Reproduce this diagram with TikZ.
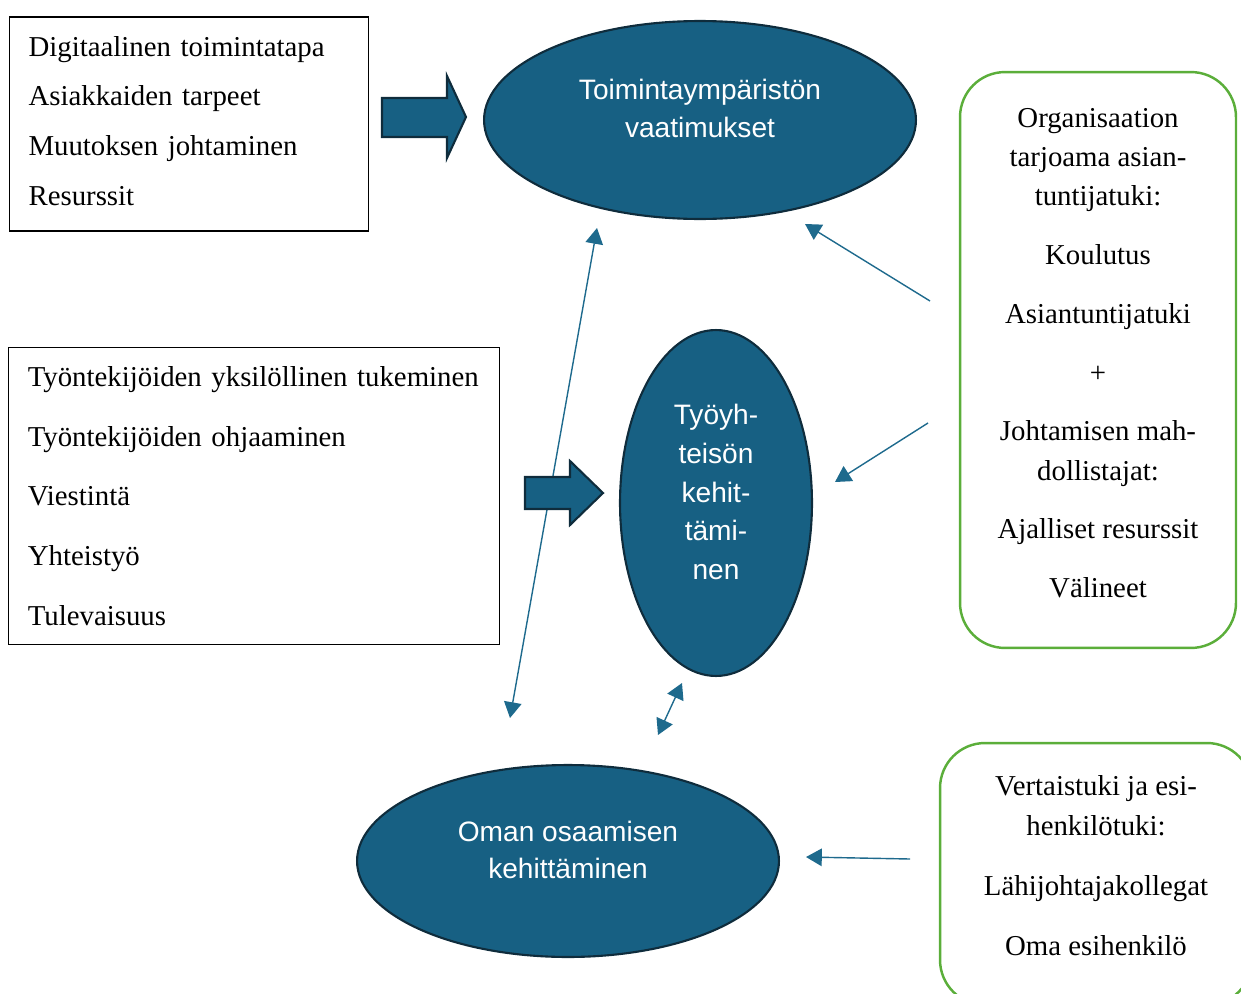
\documentclass[tikz,border=0pt]{standalone}
\usepackage{fontspec}
\setmainfont{Liberation Serif}
\setsansfont{Liberation Sans}
\usetikzlibrary{arrows.meta}
\usetikzlibrary{shapes.geometric}
\usetikzlibrary{positioning}
\definecolor{petrol}{HTML}{176083}
\definecolor{petrolline}{HTML}{1E6A8D}
\definecolor{petroldark}{HTML}{0F2C3C}
\definecolor{leafgreen}{HTML}{5BAE3A}
\tikzset{
  soikio/.style={ellipse, draw=petroldark, line width=1.2pt, fill=petrol, inner sep=0pt},
  soikioteksti/.style={text=white, align=center, font=\sffamily\fontsize{16}{21.5}\selectfont},
  lista/.style={draw=black, line width=0.6pt, align=left, inner ysep=0pt, inner xsep=0.39cm, font=\fontsize{16.4}{28.35}\selectfont},
  tuki/.style={draw=leafgreen, line width=1.4pt, rounded corners=0.9cm, inner sep=0pt},
  tukiteksti/.style={align=center, font=\fontsize{16.4}{22.4}\selectfont},
  yhteys/.style={draw=petrolline, line width=0.8pt, -{Triangle[length=9pt,width=10pt]}},
  kaksisuunta/.style={draw=petrolline, line width=0.8pt, {Triangle[length=9pt,width=10pt]}-{Triangle[length=9pt,width=10pt]}},
  nuoli/.style={draw=petroldark, line width=1.2pt, fill=petrol}
}
\begin{document}
\begin{tikzpicture}[x=0.02cm,y=-0.02cm]
    \clip (0,0) rectangle (1241,994);
    \node[lista, text width=6.42cm, minimum height=4.28cm] (osa1) at (189,124) {};
    \node[lista, draw=none, text width=6.42cm] (osa1teksti) at ([yshift=0.06cm]osa1.center)
        {Digitaalinen toimintatapa\\Asiakkaiden tarpeet\\Muutoksen johtaminen\\Resurssit};
    \node[lista, text width=9.05cm, minimum height=5.94cm, font=\fontsize{16.4}{34}\selectfont] (osa2) at (254,496)
        {Työntekijöiden yksilöllinen tukeminen\\Työntekijöiden ohjaaminen\\Viestintä\\Yhteistyö\\Tulevaisuus};

    \node[soikio, minimum width=8.64cm, minimum height=3.96cm] (toiminta) at (700,120) {};
    \node[soikioteksti] (toimintateksti) at ([yshift=0.23cm]toiminta.center) {Toimintaympäristön\\vaatimukset};
    \node[soikio, minimum width=3.84cm, minimum height=6.92cm] (tyoyhteiso) at (716,503) {};
    \node[soikioteksti, font=\sffamily\fontsize{16}{22.1}\selectfont] (tyoyhteisoteksti) at ([yshift=0.22cm]tyoyhteiso.center)
        {Työyh-\\teisön\\kehit-\\tämi-\\nen};
    \node[soikio, minimum width=8.44cm, minimum height=3.84cm] (osaaminen) at (568,861) {};
    \node[soikioteksti] (osaamisteksti) at ([yshift=0.22cm]osaaminen.center) {Oman osaamisen\\kehittäminen};

    \node[tuki, minimum width=5.52cm, minimum height=11.52cm] (organisaatio) at (1098,360) {};
    \node[tukiteksti] (organisaatioteksti) at ([yshift=0.14cm]organisaatio.center)
        {Organisaation\\tarjoama asian-\\tuntijatuki:\\[11pt]Koulutus\\[11pt]Asiantuntijatuki\\[11pt]+\\[11pt]Johtamisen mah-\\dollistajat:\\[11pt]Ajalliset resurssit\\[11pt]Välineet};
    \node[tuki, minimum width=6.24cm, minimum height=5.24cm] (vertais) at (1096,874) {};
    \node[tukiteksti] (vertaisteksti) at ([yshift=0.16cm]vertais.center)
        {Vertaistuki ja esi-\\henkilötuki:\\[12pt]Lähijohtajakollegat\\[12pt]Oma esihenkilö};

    \coordinate (pitkaylos) at (597,228);
    \coordinate (pitkaalas) at (510,718);
    \coordinate (org1) at (930,301);
    \coordinate (org1kohde) at (805,224);
    \coordinate (org2) at (928,423);
    \coordinate (org2kohde) at (835,482);
    \coordinate (lyhytylos) at (682,683);
    \coordinate (lyhytalas) at (658,735);
    \coordinate (vert) at (910,859);
    \coordinate (vertkohde) at (806,857);

    \draw[kaksisuunta] (pitkaalas) -- (pitkaylos);
    \draw[kaksisuunta] (lyhytalas) -- (lyhytylos);
    \draw[yhteys] (org1) -- (org1kohde);
    \draw[yhteys] (org2) -- (org2kohde);
    \draw[yhteys] (vert) -- (vertkohde);

    \draw[nuoli] (382,98) -- (447,98) -- (447,76) -- (466,117) -- (447,158) -- (447,137) -- (382,137) -- cycle;
    \draw[nuoli] (525,477) -- (570,477) -- (570,461) -- (603,493) -- (570,525) -- (570,509) -- (525,509) -- cycle;
\end{tikzpicture}
\end{document}
